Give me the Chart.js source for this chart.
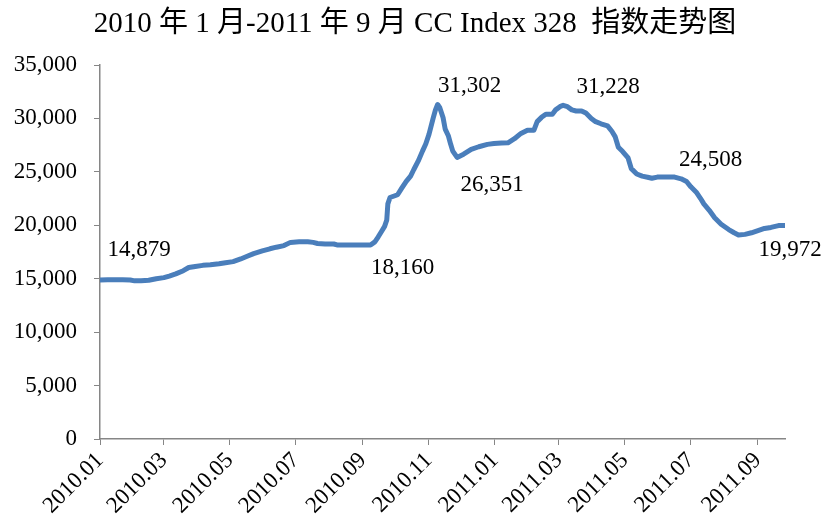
<!DOCTYPE html>
<html>
<head>
<meta charset="utf-8">
<script src="https://cdn.jsdelivr.net/npm/chart.js@4/dist/chart.umd.min.js"></script>
<style>
    html, body { margin: 0; padding: 0; background: #fff; }
    #wrap { width: 824px; height: 521px; position: relative; }
</style>
</head>
<body>
<div id="wrap"><canvas id="chart" width="824" height="521"></canvas></div>
<script>
// CC Index 328, Jan 2010 - Sep 2011 (days counted from 2010-01-01)
const days = [
    0, 7, 14, 21, 28, 32, 38, 45, 52, 59, 64, 70, 77, 82, 88, 95, 102, 110, 116, 123,
    130, 136, 142, 150, 157, 163, 170, 176, 184, 192, 197, 201, 208, 216, 219, 226, 235, 244, 250, 254,
    257, 260, 263, 265, 266, 268, 275, 279, 283, 287, 290, 294, 298, 301, 304, 308, 310, 312, 314, 317,
    319, 322, 324, 326, 330, 336, 343, 350, 358, 364, 371, 377, 383, 389, 395, 401, 404, 408, 412, 418,
    421, 425, 428, 432, 436, 440, 445, 449, 454, 458, 463, 469, 473, 476, 479, 483, 488, 491, 496, 501,
    506, 510, 515, 522, 531, 537, 542, 546, 551, 555, 558, 563, 568, 574, 581, 586, 590, 596, 602, 608,
    614, 620, 627, 633
];
const values = [
    14879, 14900, 14900, 14900, 14880, 14800, 14800, 14850, 15000, 15100, 15250, 15450, 15750, 16050, 16150, 16250, 16300, 16400, 16500, 16600,
    16850, 17100, 17350, 17600, 17800, 17950, 18100, 18400, 18450, 18450, 18400, 18300, 18250, 18250, 18160, 18160, 18160, 18160, 18160, 18450,
    18900, 19400, 19900, 20500, 22000, 22600, 22860, 23500, 24110, 24600, 25220, 26000, 26940, 27600, 28510, 30080, 30800, 31302, 31000, 30080,
    29000, 28350, 27600, 26940, 26351, 26650, 27100, 27350, 27570, 27650, 27700, 27720, 28100, 28600, 28900, 28900, 29700, 30100, 30400, 30400,
    30800, 31100, 31228, 31100, 30800, 30700, 30700, 30500, 30000, 29700, 29500, 29300, 28800, 28300, 27300, 26900, 26300, 25300, 24800, 24600,
    24500, 24400, 24508, 24508, 24508, 24350, 24100, 23600, 23100, 22500, 22000, 21400, 20700, 20100, 19600, 19300, 19100, 19150, 19300, 19500,
    19700, 19800, 19972, 19972
];

const tickDays = [0, 59, 120, 181, 243, 304, 365, 424, 485, 546, 608];
const tickLabels = ['2010.01', '2010.03', '2010.05', '2010.07', '2010.09', '2010.11',
    '2011.01', '2011.03', '2011.05', '2011.07', '2011.09'];

const titleText = '2010 年 1 月-2011 年 9 月 CC Index 328  指数走势图';

// annotated points (index into values) and where the label sits relative to the point
const labelIdx = [0, 38, 57, 64, 82, 104, 123];
const labelOffsets = [[39, -30], [32, 23], [32, -19], [35, 28], [45, -18], [36, -17], [5, 24]];

const serif = '"Liberation Serif", "Times New Roman", "Noto Sans CJK SC", serif';
const axisGray = '#868686';

const titleAndLabels = {
    id: 'titleAndLabels',
    afterDraw(chart) {
        const ctx = chart.ctx;
        const xs = chart.scales.x, ys = chart.scales.y;
        ctx.save();
        ctx.fillStyle = '#000';
        ctx.textAlign = 'center';
        ctx.textBaseline = 'middle';
        ctx.font = '29px ' + serif;
        ctx.fillText(titleText, 415, 24);

        ctx.font = '23px ' + serif;
        labelIdx.forEach((i, k) => {
            const px = xs.getPixelForValue(days[i]);
            const py = ys.getPixelForValue(values[i]);
            ctx.fillText(values[i].toLocaleString('en-US'), px + labelOffsets[k][0], py + labelOffsets[k][1]);
        });
        ctx.restore();
    }
};

const ctx = document.getElementById('chart').getContext('2d');
new Chart(ctx, {
    type: 'line',
    data: {
        datasets: [{
            data: days.map((d, i) => ({ x: d, y: values[i] })),
            borderColor: '#4a7ebb',
            borderWidth: 5,
            pointRadius: 0,
            tension: 0,
            borderJoinStyle: 'round',
            borderCapStyle: 'round'
        }]
    },
    options: {
        responsive: false,
        animation: false,
        layout: { padding: { left: 0, right: 39, top: 65, bottom: 0 } },
        plugins: {
            legend: { display: false },
            tooltip: { enabled: false },
            title: { display: false }
        },
        scales: {
            x: {
                type: 'linear',
                min: 0,
                max: 633,
                afterBuildTicks(scale) {
                    scale.ticks = tickDays.map(v => ({ value: v }));
                },
                afterFit(scale) { scale.height = 82; },
                ticks: {
                    autoSkip: false,
                    minRotation: 45,
                    maxRotation: 45,
                    color: '#000',
                    font: { family: serif, size: 23 },
                    padding: 2,
                    callback: (v, i) => tickLabels[i]
                },
                grid: { drawOnChartArea: false, color: axisGray, tickLength: 6 },
                border: { color: axisGray, width: 1.5 }
            },
            y: {
                min: 0,
                max: 35000,
                afterFit(scale) { scale.width = 100; },
                ticks: {
                    stepSize: 5000,
                    color: '#000',
                    font: { family: serif, size: 23 },
                    padding: 17,
                    callback: v => v.toLocaleString('en-US')
                },
                grid: { drawOnChartArea: false, color: axisGray, tickLength: 6 },
                border: { color: axisGray, width: 1.5 }
            }
        }
    },
    plugins: [titleAndLabels]
});
</script>
</body>
</html>
